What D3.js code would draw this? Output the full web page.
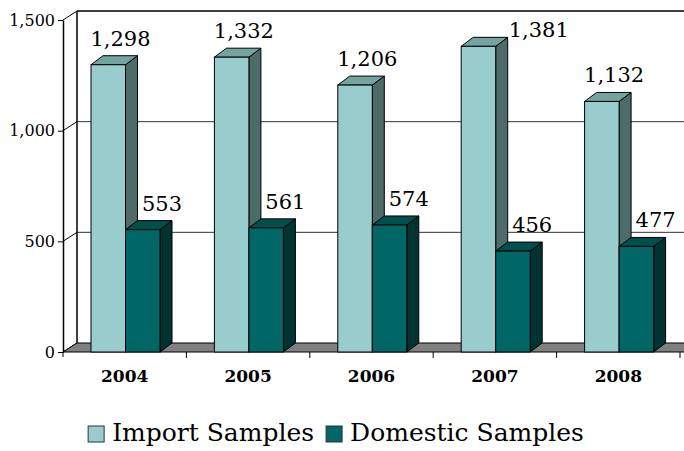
<!DOCTYPE html>
<html><head><meta charset="utf-8">
<script src="https://cdn.jsdelivr.net/npm/d3@7"></script>
<style>
html,body{margin:0;padding:0;background:#fff;}
svg{display:block;}
text{font-family:"DejaVu Serif",serif;fill:#000;}
</style></head>
<body>
<svg id="chart" width="684" height="451"></svg>
<script>
const years = ["2004","2005","2006","2007","2008"];
const seriesNames = ["Import Samples","Domestic Samples"];
const importSamples = [1298,1332,1206,1381,1132];
const domesticSamples = [553,561,574,456,477];
const yTicks = [0,500,1000,1500];

const frontColors = ["#99cccc","#006666"];
const topColors = ["#74a3a0","#004f4c"];
const sideColors = ["#4d6b69","#003331"];

const svg = d3.select("#chart");
const W = 684;
const left = 63, right = 680, floorY = 352, topY = 20;
const wallDx = 14, wallDy = -9;   // back wall depth offset
const barDx = 12, barDy = -9;     // bar depth offset

const y = d3.scaleLinear().domain([0,1500]).range([floorY, topY]);
const x0 = d3.scaleBand().domain(years).range([left, right]).padding(0);
const x1 = d3.scaleBand().domain(seriesNames).range([28, 28 + 69]).padding(0);

// back wall gridlines
const g = svg.append("g");
yTicks.forEach(t => {
  const yb = y(t) + wallDy;
  if (t > 0) {
    g.append("line").attr("x1", left + wallDx).attr("x2", W)
      .attr("y1", yb).attr("y2", yb)
      .attr("stroke", t === 1500 ? "#000" : "#333").attr("stroke-width", t === 1500 ? 1.5 : 1);
  }
  g.append("line").attr("x1", left).attr("y1", y(t)).attr("x2", left + wallDx).attr("y2", yb)
    .attr("stroke", "#000").attr("stroke-width", 1);
});
g.append("line").attr("x1", left + wallDx).attr("x2", left + wallDx)
  .attr("y1", y(1500) + wallDy).attr("y2", y(0) + wallDy).attr("stroke", "#000").attr("stroke-width", 1.5);

// floor
g.append("path")
  .attr("d", `M${left},${floorY}L${left + wallDx},${floorY + wallDy}L${W + 2},${floorY + wallDy}L${W + 2},${floorY}Z`)
  .attr("fill", "#808080").attr("stroke", "#000").attr("stroke-width", 1);

// y axis
const yAxis = d3.axisLeft(y).tickValues(yTicks).tickSize(5).tickSizeOuter(0).tickPadding(3).tickFormat(d3.format(","));
const ya = svg.append("g").attr("transform", `translate(${left},0)`).call(yAxis);
ya.select(".domain").attr("stroke", "#000").attr("stroke-width", 1.5);
ya.selectAll(".tick line").attr("stroke", "#000");
ya.selectAll(".tick text").style("font-family", "DejaVu Serif").style("font-size", "16px").attr("fill", "#000");

// category boundary ticks
years.forEach((yr) => {
  const xb = x0(yr) + x0.bandwidth();
  svg.append("line").attr("x1", xb).attr("x2", xb).attr("y1", floorY).attr("y2", floorY + 6).attr("stroke", "#000");
});
svg.append("line").attr("x1", left).attr("x2", left).attr("y1", floorY).attr("y2", floorY + 5).attr("stroke", "#000");

// x axis labels
const xAxis = d3.axisBottom(x0).tickSize(0).tickPadding(0);
const xa = svg.append("g").attr("transform", `translate(0,${floorY})`).call(xAxis);
xa.select(".domain").remove();
xa.selectAll(".tick text").attr("dy", null).attr("y", 30)
  .style("font-family", "DejaVu Serif").style("font-size", "17px").style("font-weight", "bold").attr("fill", "#000");

// bars
const data = [];
years.forEach((yr, i) => {
  [importSamples[i], domesticSamples[i]].forEach((v, s) => {
    data.push({year: yr, series: seriesNames[s], s, v});
  });
});
const bars = svg.append("g");
data.forEach(d => {
  const xl = x0(d.year) + x1(d.series);
  const xr = xl + x1.bandwidth();
  const yt = y(d.v), yb = y(0);
  const b = bars.append("g");
  b.append("path").attr("d", `M${xr},${yb}L${xr + barDx},${yb + barDy}L${xr + barDx},${yt + barDy}L${xr},${yt}Z`)
    .attr("fill", sideColors[d.s]).attr("stroke", "#000").attr("stroke-width", 1).attr("stroke-linejoin", "round");
  b.append("path").attr("d", `M${xl},${yt}L${xl + barDx},${yt + barDy}L${xr + barDx},${yt + barDy}L${xr},${yt}Z`)
    .attr("fill", topColors[d.s]).attr("stroke", "#000").attr("stroke-width", 1).attr("stroke-linejoin", "round");
  b.append("rect").attr("x", xl).attr("y", yt).attr("width", x1.bandwidth()).attr("height", yb - yt)
    .attr("fill", frontColors[d.s]).attr("stroke", "#000").attr("stroke-width", 1);
});

// value labels
const fmt = d3.format(",");
const labels = svg.append("g");
data.forEach(d => {
  const xl = x0(d.year) + x1(d.series);
  const xr = xl + x1.bandwidth();
  const topBack = y(d.v) + barDy;
  let lx = xr - (d.s === 0 ? 5 : -2), ly = topBack - 10, anchor = "middle";
  if (ly - 17 < y(1500) + wallDy) { // too close to the top: place beside the bar
    lx = xr + barDx + 1; ly = topBack; anchor = "start";
  }
  labels.append("text").attr("x", lx).attr("y", ly).attr("text-anchor", anchor)
    .style("font-size", "21px").text(fmt(d.v));
});

// legend
const lg = svg.append("g");
let cx = 0;
seriesNames.forEach((n, s) => {
  const it = lg.append("g");
  it.append("rect").attr("x", 0).attr("y", -15).attr("width", 16).attr("height", 16)
    .attr("fill", frontColors[s]).attr("stroke", "#333").attr("stroke-width", 1);
  const t = it.append("text").attr("x", 24).attr("y", 0).style("font-size", "25px").text(n);
  const w = 24 + t.node().getComputedTextLength();
  it.attr("transform", `translate(${cx},0)`);
  cx += w + 12;
});
const total = cx - 12;
lg.attr("transform", `translate(${336 - total / 2},441)`);
</script>
</body></html>
